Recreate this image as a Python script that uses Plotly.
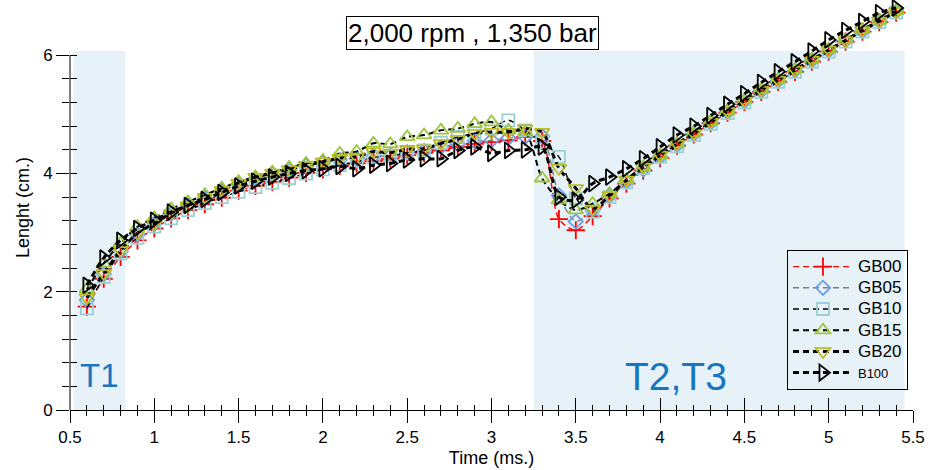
import plotly.graph_objects as go

# Injection time axis (ms)
time_ms = [0.6, 0.7, 0.8, 0.9, 1.0,
           1.1, 1.2, 1.3, 1.4, 1.5, 1.6, 1.7, 1.8, 1.9, 2.0,
           2.1, 2.2, 2.3, 2.4, 2.5, 2.6, 2.7, 2.8, 2.9, 3.0,
           3.1, 3.2, 3.3, 3.4, 3.5, 3.6, 3.7, 3.8, 3.9, 4.0,
           4.1, 4.2, 4.3, 4.4, 4.5, 4.6, 4.7, 4.8, 4.9, 5.0,
           5.1, 5.2, 5.3, 5.4]

# Spray tip penetration length (cm) for each fuel blend
gb00 = [1.75, 2.22, 2.59, 2.87, 3.07,
        3.24, 3.38, 3.48, 3.59, 3.71, 3.79, 3.86, 3.93, 4.01, 4.07,
        4.13, 4.17, 4.21, 4.25, 4.31, 4.35, 4.39, 4.45, 4.50, 4.53,
        4.56, 4.62, 4.55, 3.23, 3.04, 3.28, 3.58, 3.83, 4.05, 4.26,
        4.47, 4.66, 4.85, 5.03, 5.21, 5.38, 5.55, 5.72, 5.89, 6.06,
        6.23, 6.40, 6.56, 6.72]
gb05 = [1.86, 2.30, 2.68, 2.97, 3.15,
        3.32, 3.46, 3.58, 3.70, 3.82, 3.91, 3.99, 4.06, 4.13, 4.18,
        4.23, 4.25, 4.30, 4.30, 4.36, 4.38, 4.45, 4.50, 4.55, 4.56,
        4.60, 4.62, 4.63, 3.63, 3.19, 3.38, 3.62, 3.86, 4.07, 4.28,
        4.48, 4.67, 4.86, 5.04, 5.22, 5.40, 5.57, 5.74, 5.91, 6.08,
        6.25, 6.41, 6.58, 6.74]
gb10 = [1.72, 2.25, 2.65, 2.91, 3.10,
        3.24, 3.38, 3.50, 3.60, 3.69, 3.77, 3.84, 3.92, 4.00, 4.07,
        4.14, 4.20, 4.27, 4.30, 4.35, 4.39, 4.52, 4.62, 4.68, 4.76,
        4.90, 4.73, 4.53, 4.28, 3.58, 3.35, 3.60, 3.85, 4.09, 4.28,
        4.46, 4.65, 4.84, 5.02, 5.20, 5.38, 5.55, 5.72, 5.89, 6.06,
        6.23, 6.40, 6.56, 6.72]
gb15 = [2.04, 2.48, 2.82, 3.10, 3.25,
        3.40, 3.52, 3.64, 3.75, 3.86, 3.94, 4.02, 4.10, 4.17, 4.22,
        4.34, 4.37, 4.51, 4.50, 4.62, 4.65, 4.73, 4.76, 4.84, 4.87,
        4.73, 4.70, 3.92, 3.55, 3.38, 3.49, 3.66, 3.89, 4.11, 4.31,
        4.50, 4.69, 4.88, 5.06, 5.24, 5.42, 5.59, 5.76, 5.93, 6.10,
        6.26, 6.43, 6.59, 6.75]
gb20 = [1.90, 2.31, 2.70, 2.99, 3.16,
        3.33, 3.46, 3.60, 3.72, 3.84, 3.94, 4.01, 4.07, 4.14, 4.20,
        4.26, 4.28, 4.37, 4.35, 4.41, 4.42, 4.51, 4.58, 4.68, 4.70,
        4.70, 4.76, 4.70, 4.09, 3.75, 3.40, 3.63, 3.89, 4.11, 4.31,
        4.50, 4.68, 4.87, 5.05, 5.23, 5.41, 5.58, 5.75, 5.92, 6.09,
        6.25, 6.42, 6.58, 6.74]
b100 = [2.11, 2.57, 2.87, 3.07, 3.21,
        3.35, 3.46, 3.56, 3.68, 3.79, 3.87, 3.94, 4.00, 4.05, 4.08,
        4.12, 4.08, 4.14, 4.17, 4.23, 4.25, 4.25, 4.39, 4.45, 4.34,
        4.39, 4.40, 4.45, 3.60, 3.55, 3.83, 3.94, 4.08, 4.25, 4.45,
        4.65, 4.80, 4.98, 5.17, 5.35, 5.54, 5.72, 5.89, 6.07, 6.26,
        6.42, 6.57, 6.72, 6.80]

x_ticks = [0.5, 1, 1.5, 2, 2.5, 3, 3.5, 4, 4.5, 5, 5.5]
x_tick_text = ["0.5", "1", "1.5", "2", "2.5", "3", "3.5", "4", "4.5", "5", "5.5"]
y_ticks = [0, 2, 4, 6]
y_minor = [0.4, 0.8, 1.2, 1.6, 2.4, 2.8, 3.2, 3.6, 4.4, 4.8, 5.2, 5.6]
y_all = [0, 0.4, 0.8, 1.2, 1.6, 2.0, 2.4, 2.8, 3.2, 3.6, 4.0, 4.4, 4.8,
         5.2, 5.6, 6.0]

FONT = "Liberation Sans, Arial, sans-serif"
SHADE = "rgb(230,242,248)"
LABEL_BLUE = "rgb(24,118,192)"

series = [
    ("GB00", gb00, "cross-thin-open", 13, "#ff0000", "#ff0000", 1.4, 17),
    ("GB05", gb05, "diamond-open", 11, "#6c9ce8", "#7f7f7f", 1.4, 17),
    ("GB10", gb10, "square-open", 12, "#9ccfd2", "#000000", 1.4, 17),
    ("GB15", gb15, "triangle-up-open", 13, "#9cc63c", "#000000", 2.0, 17),
    ("GB20", gb20, "triangle-down-open", 13, "#bcbc28", "#000000", 3.0, 17),
    ("B100", b100, "triangle-right-open", 14, "#000000", "#000000", 3.0, 13),
]

fig = go.Figure()
for name, vals, sym, size, mcol, lcol, lw, fsize in series:
    label = f"<span style='font-size:{fsize}px'>{name}</span>"
    fig.add_trace(go.Scatter(
        x=time_ms, y=vals, name=label, mode="lines+markers",
        line=dict(color=lcol, width=lw, dash="6px,4px", shape="spline",
                  smoothing=0.8),
        marker=dict(symbol=sym, size=size, color=mcol,
                    line=dict(color=mcol, width=1.8)),
        cliponaxis=False,
    ))

# helper trace so the overlaid axes (inner tick marks) get drawn
fig.add_trace(go.Scatter(x=[None], y=[None], xaxis="x2", yaxis="y2",
                         showlegend=False, hoverinfo="skip"))

fig.update_layout(
    width=940, height=470,
    margin=dict(l=70, r=27, t=5, b=60),
    paper_bgcolor="white", plot_bgcolor="white",
    font=dict(family=FONT, size=17, color="black"),
    showlegend=True,
    legend=dict(x=0.8505, y=0.395, xanchor="left", yanchor="top",
                bgcolor="rgba(0,0,0,0)", bordercolor="black", borderwidth=1,
                font=dict(size=14, family=FONT), tracegroupgap=0,
                itemwidth=60),
    xaxis=dict(range=[0.5, 5.5], tickvals=x_ticks, ticktext=x_tick_text,
               ticks="outside", ticklen=12, tickwidth=1, tickcolor="black",
               minor=dict(dtick=0.1, tick0=0.5, ticks="outside", ticklen=5,
                          tickwidth=1, tickcolor="black", showgrid=False),
               showline=True, linecolor="black", linewidth=1,
               showgrid=False, zeroline=False,
               title=dict(text="Time (ms.)", font=dict(size=18), standoff=4),
               tickfont=dict(size=17)),
    yaxis=dict(range=[0, 6.85], tickvals=y_ticks,
               ticks="outside", ticklen=13, tickwidth=1, tickcolor="black",
               minor=dict(tickvals=y_minor, ticks="outside", ticklen=7,
                          tickwidth=1, tickcolor="black", showgrid=False),
               showline=False, showgrid=False, zeroline=False,
               title=dict(text="Lenght (cm.)", font=dict(size=18), standoff=8),
               tickfont=dict(size=17)),
    xaxis2=dict(range=[0.5, 5.5], overlaying="x", anchor="y2",
                tickvals=x_ticks, ticks="inside", ticklen=12, tickwidth=1,
                tickcolor="black", showticklabels=False,
                minor=dict(dtick=0.1, tick0=0.5, ticks="inside", ticklen=5,
                           tickwidth=1, tickcolor="black", showgrid=False),
                showline=False, showgrid=False, zeroline=False),
    yaxis2=dict(range=[0, 6.85], overlaying="y", anchor="x2",
                tickvals=y_all, ticks="inside", ticklen=7, tickwidth=1,
                tickcolor="black", showticklabels=False,
                showline=False, showgrid=False, zeroline=False),
)

# shaded injection phases
fig.add_shape(type="rect", xref="x", yref="y", x0=0.52, x1=0.83, y0=0, y1=6.07,
              fillcolor=SHADE, line=dict(width=0), layer="below")
fig.add_shape(type="rect", xref="x", yref="y", x0=3.25, x1=5.45, y0=0, y1=6.07,
              fillcolor=SHADE, line=dict(width=0), layer="below")
# vertical axis line running only up to 6
fig.add_shape(type="line", xref="paper", yref="y", x0=0, x1=0, y0=0, y1=6,
              line=dict(color="black", width=1))

fig.add_annotation(text="2,000 rpm , 1,350 bar", xref="paper", yref="paper",
                   x=0.477, y=0.931, xanchor="center", yanchor="middle",
                   showarrow=False,
                   font=dict(size=26, family=FONT, color="black"),
                   bordercolor="black", borderwidth=1, borderpad=1,
                   bgcolor="white")
fig.add_annotation(text="T1", xref="x", yref="y", x=0.675, y=0.58,
                   showarrow=False,
                   font=dict(size=33, family=FONT, color=LABEL_BLUE))
fig.add_annotation(text="T2,T3", xref="x", yref="y", x=4.094, y=0.575,
                   showarrow=False,
                   font=dict(size=39, family=FONT, color=LABEL_BLUE))

fig.write_html("out.html")
